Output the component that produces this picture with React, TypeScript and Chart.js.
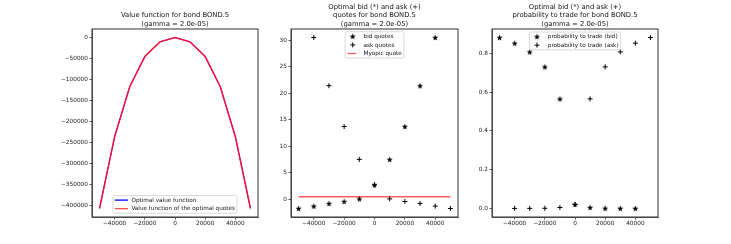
import React, { useEffect, useRef } from 'react';
import { Chart, registerables } from 'chart.js';

Chart.register(...registerables);

// ---------------- data ----------------
const inventory = [-50000, -40000, -30000, -20000, -10000, 0, 10000, 20000, 30000, 40000, 50000];
const optimalValue = [-406000, -235500, -116700, -45200, -10200, 0, -10200, -45200, -116700, -235500, -406000];
const quotesValue = [-406000, -235500, -116700, -45200, -10200, 0, -10200, -45200, -116700, -235500, -406000];
const bidQuotes = [-1.76, -1.32, -0.82, -0.44, 0.05, 2.7, 7.5, 13.7, 21.4, 30.5, null];
const askQuotes = [null, 30.5, 21.4, 13.7, 7.5, 2.7, 0.05, -0.44, -0.82, -1.32, -1.76];
const myopicQuote = [0.44, 0.44, 0.44, 0.44, 0.44, 0.44, 0.44, 0.44, 0.44, 0.44, 0.44];
const bidProb = [0.881, 0.852, 0.807, 0.73, 0.565, 0.021, 0.005, 0.001, 0.0005, 0.0002, null];
const askProb = [null, 0.0002, 0.0005, 0.001, 0.005, 0.021, 0.565, 0.73, 0.807, 0.852, 0.881];

const xTicks = [-40000, -20000, 0, 20000, 40000];
const valueTicks = [-400000, -350000, -300000, -250000, -200000, -150000, -100000, -50000, 0];
const quoteTicks = [0, 5, 10, 15, 20, 25, 30];
const probTicks = [0, 0.2, 0.4, 0.6, 0.8];

const title1 = ['Value function for bond BOND.5', '(gamma = 2.0e-05)'];
const title2 = ['Optimal bid (*) and ask (+)', 'quotes for bond BOND.5', '(gamma = 2.0e-05)'];
const title3 = ['Optimal bid (*) and ask (+)', 'probability to trade for bond BOND.5', '(gamma = 2.0e-05)'];

// ---------------- style ----------------
const W = 731;
const H = 244;
const FONT = 'DejaVu Sans';
const TICK_FONT = 5.8;
const TITLE_FONT = 6.8;
const LEGEND_FONT = 5.7;
const YW = 34;
const XH = 13;
const TOP = 29;
const BOTTOM = 217;

const minus = (v: number, s: string) => (v < 0 ? '\u2212' + s.replace('-', '') : s);

function pts(ys: (number | null)[]) {
  const out: { x: number; y: number }[] = [];
  ys.forEach((y, i) => {
    if (y !== null && y !== undefined) out.push({ x: inventory[i], y });
  });
  return out;
}

function makeStar(r: number) {
  const size = Math.ceil(r * 2 + 2);
  const c = document.createElement('canvas');
  c.width = size;
  c.height = size;
  const ctx = c.getContext('2d')!;
  const cx = size / 2;
  const cy = size / 2 + 0.3;
  ctx.beginPath();
  for (let i = 0; i < 10; i++) {
    const rad = i % 2 === 0 ? r : r * 0.42;
    const a = -Math.PI / 2 + (i * Math.PI) / 5;
    const x = cx + rad * Math.cos(a);
    const y = cy + rad * Math.sin(a);
    if (i === 0) ctx.moveTo(x, y);
    else ctx.lineTo(x, y);
  }
  ctx.closePath();
  ctx.fillStyle = '#000';
  ctx.fill();
  return c;
}

type LegendItem = { label: string; kind: 'line' | 'star' | 'plus'; color?: string };

type Panel = {
  left: number;
  right: number;
  title: string[];
  titleY: number[];
  legend: LegendItem[];
  legendLoc: 'upper' | 'lower';
  legendOffset: number;
  lineFrom: number;
  lineTo: number;
};

function drawPlus(ctx: CanvasRenderingContext2D, x: number, y: number, r: number) {
  ctx.save();
  ctx.strokeStyle = '#000';
  ctx.lineWidth = 1;
  ctx.beginPath();
  ctx.moveTo(x - r, y);
  ctx.lineTo(x + r, y);
  ctx.moveTo(x, y - r);
  ctx.lineTo(x, y + r);
  ctx.stroke();
  ctx.restore();
}

function decoPlugin(p: Panel, star: HTMLCanvasElement) {
  return {
    id: 'deco',
    afterDraw(chart: any) {
      const ctx: CanvasRenderingContext2D = chart.ctx;
      const a = chart.chartArea;
      ctx.save();
      // frame
      ctx.strokeStyle = '#333';
      ctx.lineWidth = 1;
      ctx.strokeRect(a.left, a.top, a.right - a.left, a.bottom - a.top);
      // title
      ctx.fillStyle = '#111';
      ctx.font = `${TITLE_FONT}px "${FONT}"`;
      ctx.textAlign = 'center';
      ctx.textBaseline = 'middle';
      const cx = (a.left + a.right) / 2;
      p.title.forEach((t, i) => ctx.fillText(t, cx, p.titleY[i]));
      // legend
      ctx.font = `${LEGEND_FONT}px "${FONT}"`;
      const tw = Math.max(...p.legend.map((it) => ctx.measureText(it.label).width));
      const textOff = 18.4;
      const bw = textOff + tw + 2;
      const rowH = 8.6;
      const bh = p.legend.length * rowH + 0.6;
      const bx = cx - bw / 2;
      const by = p.legendLoc === 'upper' ? a.top + p.legendOffset : a.bottom - p.legendOffset - bh;
      ctx.fillStyle = 'rgba(255,255,255,0.85)';
      ctx.strokeStyle = '#d0d0d0';
      ctx.lineWidth = 0.8;
      ctx.beginPath();
      (ctx as any).roundRect(bx, by, bw, bh, 1.5);
      ctx.fill();
      ctx.stroke();
      ctx.textAlign = 'left';
      ctx.textBaseline = 'middle';
      p.legend.forEach((it, i) => {
        const y = by + 4.6 + i * rowH;
        const mx = bx + 7.6;
        if (it.kind === 'line') {
          ctx.strokeStyle = it.color || '#000';
          ctx.lineWidth = 1.3;
          ctx.beginPath();
          ctx.moveTo(bx + p.lineFrom, y);
          ctx.lineTo(bx + p.lineTo, y);
          ctx.stroke();
        } else if (it.kind === 'star') {
          ctx.drawImage(star, mx - star.width / 2, y - star.height / 2);
        } else {
          drawPlus(ctx, mx, y, 2.5);
        }
        ctx.fillStyle = '#111';
        ctx.fillText(it.label, bx + textOff, y + 0.3);
      });
      ctx.restore();
    },
  };
}

function axisStyle() {
  return {
    grid: { drawOnChartArea: false, drawTicks: true, tickLength: 2.5, color: '#333', lineWidth: 0.8 },
    border: { display: true, color: '#333', width: 0.8 },
  };
}

function makeScales(yMin: number, yMax: number, yTicks: number[], yFmt: (v: number) => string) {
  return {
    x: {
      type: 'linear',
      min: -55000,
      max: 55000,
      afterBuildTicks: (s: any) => {
        s.ticks = xTicks.map((v) => ({ value: v }));
      },
      afterFit: (s: any) => {
        s.height = XH;
      },
      ticks: {
        font: { family: FONT, size: TICK_FONT },
        color: '#222',
        padding: 1,
        maxRotation: 0,
        autoSkip: false,
        callback: (v: any) => minus(Number(v), String(Math.abs(Number(v)) === 0 ? 0 : v)),
      },
      ...axisStyle(),
    },
    y: {
      type: 'linear',
      min: yMin,
      max: yMax,
      afterBuildTicks: (s: any) => {
        s.ticks = yTicks.map((v) => ({ value: v }));
      },
      afterFit: (s: any) => {
        s.width = YW;
      },
      ticks: {
        font: { family: FONT, size: TICK_FONT },
        color: '#222',
        padding: 1.5,
        autoSkip: false,
        callback: (v: any) => yFmt(Number(v)),
      },
      ...axisStyle(),
    },
  };
}

function baseOptions(p: Panel, scales: any) {
  return {
    responsive: false,
    animation: false,
    devicePixelRatio: 1,
    events: [],
    layout: {
      padding: {
        left: p.left - YW,
        right: W - p.right,
        top: TOP,
        bottom: H - BOTTOM - XH,
      },
    },
    plugins: { legend: { display: false }, title: { display: false }, tooltip: { enabled: false } },
    scales,
  };
}

const panel1: Panel = {
  left: 92,
  right: 258,
  title: title1,
  titleY: [15.6, 24],
  legend: [
    { label: 'Optimal value function', kind: 'line', color: '#0000ff' },
    { label: 'Value function of the optimal quotes', kind: 'line', color: 'rgba(255,0,0,0.7)' },
  ],
  legendLoc: 'lower',
  legendOffset: 3.7,
  lineFrom: 1.8,
  lineTo: 15,
};

const panel2: Panel = {
  left: 291,
  right: 458,
  title: title2,
  titleY: [7.3, 15.7, 24],
  legend: [
    { label: 'bid quotes', kind: 'star' },
    { label: 'ask quotes', kind: 'plus' },
    { label: 'Myopic quote', kind: 'line', color: 'rgba(255,40,40,0.75)' },
  ],
  legendLoc: 'upper',
  legendOffset: 2.7,
  lineFrom: 2.3,
  lineTo: 11,
};

const panel3: Panel = {
  left: 492,
  right: 658,
  title: title3,
  titleY: [7.3, 15.7, 24],
  legend: [
    { label: 'probability to trade (bid)', kind: 'star' },
    { label: 'probability to trade (ask)', kind: 'plus' },
  ],
  legendLoc: 'upper',
  legendOffset: 3,
  lineFrom: 2.3,
  lineTo: 11,
};

function useChart(ref: React.RefObject<HTMLCanvasElement | null>, build: () => any) {
  useEffect(() => {
    if (!ref.current) return;
    const chart = new Chart(ref.current, build());
    return () => chart.destroy();
  }, []);
}

export default function App() {
  const c1 = useRef<HTMLCanvasElement>(null);
  const c2 = useRef<HTMLCanvasElement>(null);
  const c3 = useRef<HTMLCanvasElement>(null);

  useChart(c1, () => {
    const star = makeStar(3);
    return {
      type: 'scatter',
      data: {
        datasets: [
          {
            data: pts(optimalValue),
            showLine: true,
            borderColor: '#0000ff',
            borderWidth: 0.8,
            pointRadius: 0,
            order: 2,
          },
          {
            data: pts(quotesValue),
            showLine: true,
            borderColor: '#f0103a',
            borderWidth: 1.5,
            pointRadius: 0,
            order: 1,
          },
        ],
      },
      options: baseOptions(
        panel1,
        makeScales(-426300, 20300, valueTicks, (v) => (v === 0 ? '0' : minus(v, String(v))))
      ),
      plugins: [decoPlugin(panel1, star)],
    };
  });

  useChart(c2, () => {
    const star = makeStar(3.2);
    return {
      type: 'scatter',
      data: {
        datasets: [
          {
            data: pts(bidQuotes),
            pointStyle: star,
            pointRadius: 3,
            showLine: false,
            order: 1,
          },
          {
            data: pts(askQuotes),
            pointStyle: 'cross',
            pointRadius: 2.5,
            borderColor: '#000',
            borderWidth: 1,
            showLine: false,
            order: 2,
          },
          {
            data: pts(myopicQuote),
            showLine: true,
            borderColor: 'rgba(255,40,40,0.75)',
            borderWidth: 1.5,
            pointRadius: 0,
            order: 3,
          },
        ],
      },
      options: baseOptions(panel2, makeScales(-3.37, 32.1, quoteTicks, (v) => String(v))),
      plugins: [decoPlugin(panel2, star)],
    };
  });

  useChart(c3, () => {
    const star = makeStar(3.2);
    return {
      type: 'scatter',
      data: {
        datasets: [
          {
            data: pts(bidProb),
            pointStyle: star,
            pointRadius: 3,
            showLine: false,
            order: 1,
          },
          {
            data: pts(askProb),
            pointStyle: 'cross',
            pointRadius: 2.5,
            borderColor: '#000',
            borderWidth: 1,
            showLine: false,
            order: 2,
          },
        ],
      },
      options: baseOptions(panel3, makeScales(-0.044, 0.925, probTicks, (v) => v.toFixed(1))),
      plugins: [decoPlugin(panel3, star)],
    };
  });

  const cs: React.CSSProperties = { position: 'absolute', left: 0, top: 0, width: W, height: H };
  return (
    <div style={{ position: 'fixed', left: 0, top: 0, width: W, height: H, background: '#fff' }}>
      <canvas ref={c1} width={W} height={H} style={cs} />
      <canvas ref={c2} width={W} height={H} style={cs} />
      <canvas ref={c3} width={W} height={H} style={cs} />
    </div>
  );
}
